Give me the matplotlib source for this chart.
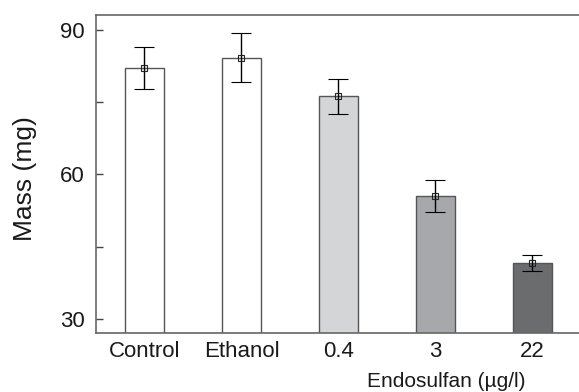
import matplotlib
matplotlib.use("Agg")
import matplotlib.pyplot as plt

plt.rcParams['font.family'] = ['Liberation Sans', 'DejaVu Sans']

categories = ["Control", "Ethanol", "0.4", "3", "22"]
means = [82.1, 84.2, 76.2, 55.6, 41.7]
errors = [4.3, 5.1, 3.7, 3.35, 1.65]
colors = ["#ffffff", "#ffffff", "#d4d5d7", "#a7a8ab", "#6b6c6e"]
yticks = [30, 45, 60, 75, 90]
ytick_labels = ["30", "", "60", "", "90"]

fig = plt.figure(figsize=(5.79, 3.92), dpi=100)
ax = fig.add_axes([96/579, 59/392, 483/579, 318/392])

x = list(range(len(categories)))
ax.bar(x, [m - 20 for m in means], bottom=20, width=0.4, color=colors,
       edgecolor="#555555", linewidth=1.0, zorder=2)
ax.errorbar(x, means, yerr=errors, fmt='s', color='black', ecolor='black',
            elinewidth=1.0, capsize=7, capthick=1.0, markersize=4,
            markerfacecolor='none', markeredgecolor='#222222',
            markeredgewidth=0.8, zorder=3)

ax.set_xlim(-0.5, 4.48)
ax.set_ylim(27.1, 93.1)
ax.set_yticks(yticks)
ax.set_yticklabels(ytick_labels, fontsize=16, color='#1a1a1a')
ax.set_xticks(x)
ax.set_xticklabels(categories, fontsize=16, color='#1a1a1a')
ax.tick_params(axis='y', direction='in', length=5, width=1, color='#444444', pad=8)
ax.tick_params(axis='x', length=0, pad=6)

for s in ['left', 'top', 'bottom']:
    ax.spines[s].set_color('#666666')
    ax.spines[s].set_linewidth(1.2)
ax.spines['right'].set_visible(False)

ax.set_ylabel("Mass (mg)", fontsize=19, color='#1a1a1a')
ax.yaxis.set_label_coords(-0.122, 0.487)
ax.set_xlabel("Endosulfan (µg/l)", fontsize=15, color='#1a1a1a')
ax.xaxis.set_label_coords(0.725, -0.122)

fig.savefig("out.png", dpi=100)
